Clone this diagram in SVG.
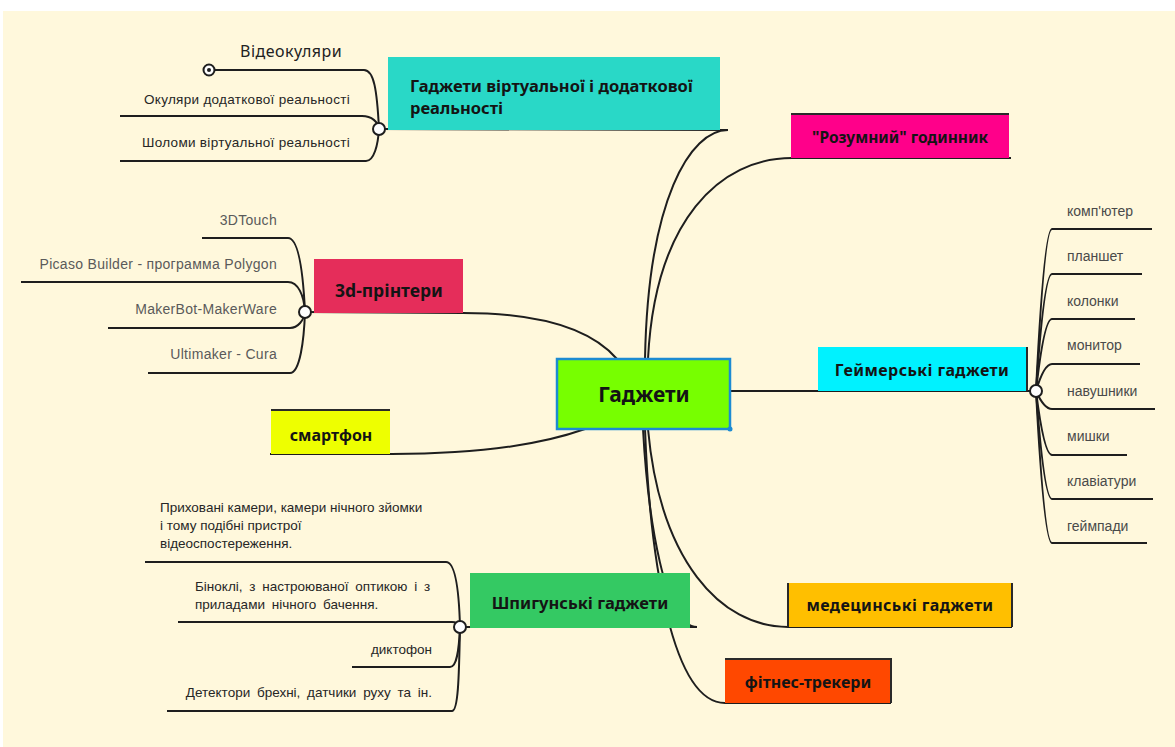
<svg xmlns="http://www.w3.org/2000/svg" width="1175" height="747" viewBox="0 0 1175 747">
<style>
.conn{fill:none;stroke:#1e1e1e;stroke-width:2}
.edge{stroke:#2a2a2a;stroke-width:2}
.hub{fill:#fff;stroke:#1e1e1e;stroke-width:2}
.title{font-family:"Noto Sans","Open Sans","DejaVu Sans",sans-serif;font-weight:bold;fill:#141414}
.leaf{font-family:"Liberation Sans","Arial",sans-serif;font-size:13.5px;fill:#262626}
.game{font-family:"Liberation Sans","Arial",sans-serif;font-size:14px;fill:#4a4a4a}
.hand{font-family:"Liberation Sans","Arial",sans-serif;font-size:14px;letter-spacing:0.3px;fill:#5a5a5a}
</style>
<rect x="3" y="11" width="1172" height="736" fill="#FFF8DC"/>
<g id="connectors">
<path class="conn" d="M379,129 L728,130 C690,130 648,200 645,359"/>
<path class="conn" d="M648,359 C655,220 720,158 792,158 L1011,158"/>
<path class="conn" d="M305,312 L463,313 C540,313 590,328 617,359"/>
<path class="conn" d="M270,454 L392,454 C480,454 540,445 585,429"/>
<path class="conn" d="M730,391 L1036,391"/>
<path class="conn" d="M460,627 L697,627 C665,627 648,520 643,429"/>
<path class="conn" d="M648,429 C660,560 720,627 788,627 L1012,627"/>
<path class="conn" d="M645,429 C650,560 672,703 725,703 L891,703"/>
<path class="conn" d="M215,70 L364,70 C374,70 377,90 379,129"/>
<path class="conn" d="M120,116 L362,116 C372,116 378,122 379,129"/>
<path class="conn" d="M120,161 L366,161 C374,161 378,145 379,129"/>
<path class="conn" d="M202,238 L288,238 C298,238 303,270 305,312"/>
<path class="conn" d="M21,282 L288,282 C298,282 304,295 305,312"/>
<path class="conn" d="M108,328 L290,328 C298,328 304,320 305,312"/>
<path class="conn" d="M148,373 L290,373 C300,373 304,340 305,312"/>
<path class="conn" d="M145,562 L446,562 C455,562 459,590 460,627"/>
<path class="conn" d="M178,622 L452,622 C457,622 459,625 460,627"/>
<path class="conn" d="M352,667 L450,667 C457,667 459,650 460,627"/>
<path class="conn" d="M167,711 L452,711 C458,711 459,680 460,627"/>
<path class="conn" d="M1036,391 Q1044,229 1052,229 L1152,229"/>
<path class="conn" d="M1036,391 Q1044,274 1052,274 L1142,274"/>
<path class="conn" d="M1036,391 Q1044,319 1052,319 L1135,319"/>
<path class="conn" d="M1036,391 Q1044,364 1052,364 L1140,364"/>
<path class="conn" d="M1036,391 Q1044,409 1052,409 L1155,409"/>
<path class="conn" d="M1036,391 Q1044,455 1052,455 L1127,455"/>
<path class="conn" d="M1036,391 Q1044,499 1052,499 L1153,499"/>
<path class="conn" d="M1036,391 Q1044,543 1052,543 L1147,543"/>
</g>
<g id="center">
<rect x="557" y="359" width="173" height="70" fill="#77FF00" stroke="#1C8BD2" stroke-width="2.5"/>
<circle cx="730" cy="429" r="2.5" fill="#1C8BD2"/>
<text class="title" x="644" y="402" text-anchor="middle" style="font-size:21px">Гаджети</text>
</g>
<g id="vr">
<rect x="388" y="57" width="332" height="73" fill="#29D8C7"/>
<text class="title" x="410" y="92" style="font-size:16.5px">Гаджети віртуальної і додаткової</text>
<text class="title" x="410" y="114" style="font-size:16.5px">реальності</text>
<circle class="hub" cx="379" cy="129" r="6"/>
</g>
<g id="vr-items">
<circle class="hub" cx="209" cy="70" r="5.5"/>
<circle cx="209" cy="70" r="2" fill="#1e1e1e"/>
<text x="240" y="57" font-family="Noto Sans, sans-serif" font-size="16" letter-spacing="0.5" fill="#222">Відеокуляри</text>
<text class="leaf" x="350" y="104" text-anchor="end" letter-spacing="0.3">Окуляри додаткової реальності</text>
<text class="leaf" x="350" y="147" text-anchor="end" letter-spacing="0.3" fill="#444">Шоломи віртуальної реальності</text>
</g>
<g id="watch">
<rect x="791" y="114" width="218" height="44" fill="#FF008A"/>
<line class="edge" x1="791" y1="114" x2="1009" y2="114"/>
<text class="title" x="900" y="143" text-anchor="middle" style="font-size:15.5px">"Розумний" годинник</text>
</g>
<g id="printers">
<rect x="314" y="259" width="149" height="54" fill="#E52D5A"/>
<text class="title" x="389" y="297" text-anchor="middle" style="font-size:17.5px">3d-прінтери</text>
<circle class="hub" cx="305" cy="312" r="6"/>
<text class="hand" x="277" y="225" text-anchor="end">3DTouch</text>
<text class="hand" x="277" y="269" text-anchor="end">Picaso Builder - программа Polygon</text>
<text class="hand" x="277" y="314" text-anchor="end">MakerBot-MakerWare</text>
<text class="hand" x="277" y="359" text-anchor="end">Ultimaker - Cura</text>
</g>
<g id="smartphone">
<rect x="271" y="410" width="119" height="44" fill="#EEFF00"/>
<line class="edge" x1="271" y1="410" x2="390" y2="410"/>
<text class="title" x="331" y="441" text-anchor="middle" style="font-size:16px">смартфон</text>
</g>
<g id="gamer">
<rect x="818" y="347" width="209" height="44" fill="#00F2FF"/>
<line class="edge" x1="1027" y1="347" x2="1027" y2="391"/>
<text class="title" x="922" y="376" text-anchor="middle" style="font-size:16px" letter-spacing="0.4">Геймерські гаджети</text>
<circle class="hub" cx="1036" cy="391" r="6"/>
<text class="game" x="1067" y="216">комп'ютер</text>
<text class="game" x="1067" y="261">планшет</text>
<text class="game" x="1067" y="306">колонки</text>
<text class="game" x="1067" y="350">монитор</text>
<text class="game" x="1067" y="396">навушники</text>
<text class="game" x="1067" y="441">мишки</text>
<text class="game" x="1067" y="486">клавіатури</text>
<text class="game" x="1067" y="531">геймпади</text>
</g>
<g id="spy">
<rect x="470" y="573" width="220" height="55" fill="#34C963"/>
<text class="title" x="580" y="609" text-anchor="middle" style="font-size:16.5px">Шпигунські гаджети</text>
<circle class="hub" cx="460" cy="627" r="6"/>
<text class="leaf" x="160" y="512">Приховані камери, камери нічного зйомки</text>
<text class="leaf" x="160" y="530">і тому подібні пристрої</text>
<text class="leaf" x="160" y="548">відеоспостереження.</text>
<text class="leaf" x="195" y="591" word-spacing="3">Біноклі, з настроюваної оптикою і з</text>
<text class="leaf" x="195" y="609" word-spacing="3">приладами нічного бачення.</text>
<text class="leaf" x="432" y="654" text-anchor="end">диктофон</text>
<text class="leaf" x="432" y="697" text-anchor="end" word-spacing="3">Детектори брехні, датчики руху та ін.</text>
</g>
<g id="medical">
<rect x="788" y="583" width="224" height="44" fill="#FFBF00"/>
<line class="edge" x1="788" y1="583" x2="788" y2="627"/>
<line class="edge" x1="1012" y1="583" x2="1012" y2="627"/>
<text class="title" x="900" y="611" text-anchor="middle" style="font-size:16px" letter-spacing="0.4">медецинські гаджети</text>
</g>
<g id="fitness">
<rect x="725" y="659" width="166" height="44" fill="#FF4800"/>
<path class="edge" fill="none" d="M725,659 H891 V703"/>
<text class="title" x="808" y="688" text-anchor="middle" style="font-size:16px">фітнес-трекери</text>
</g>
</svg>
